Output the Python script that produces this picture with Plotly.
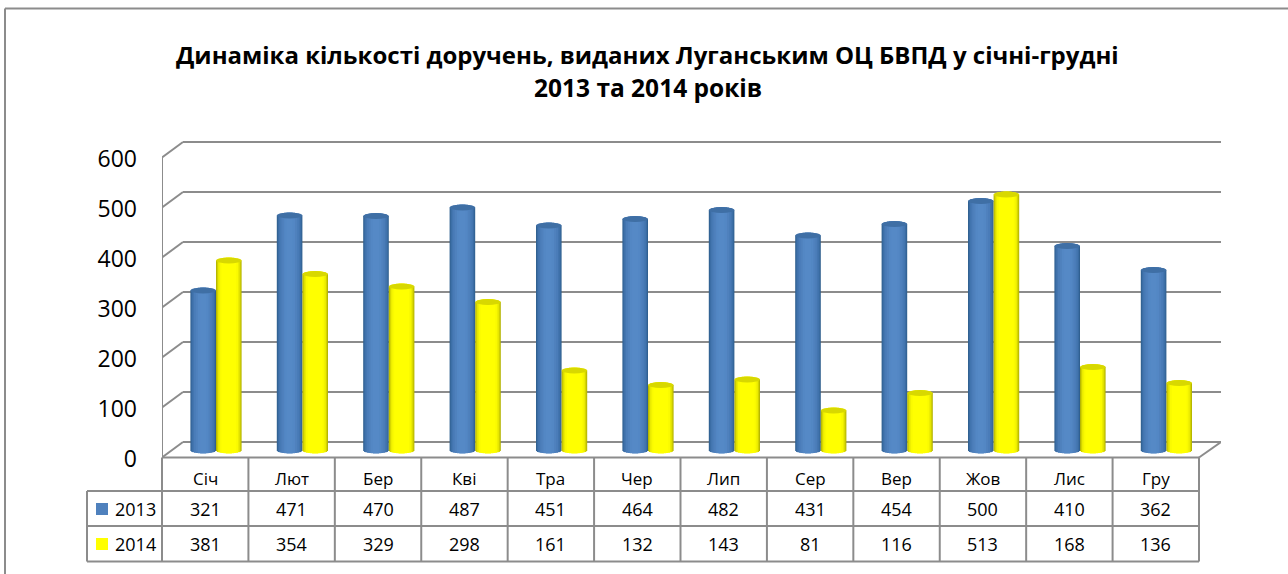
import math
import plotly.graph_objects as go

months = ["Січ", "Лют", "Бер", "Кві", "Тра", "Чер", "Лип", "Сер", "Вер", "Жов", "Лис", "Гру"]
values_2013 = [321, 471, 470, 487, 451, 464, 482, 431, 454, 500, 410, 362]
values_2014 = [381, 354, 329, 298, 161, 132, 143, 81, 116, 513, 168, 136]
y_ticks = [0, 100, 200, 300, 400, 500, 600]
title_lines = ["Динаміка кількості доручень, виданих Луганським ОЦ БВПД у січні-грудні",
               "2013 та 2014 років"]

W, H = 1288, 574
L, R, T, B = 162.0, 1221.0, 130.0, 470.0      # plot box in page pixels
FLOOR = 457.5                                 # pixel of the front floor edge
FR = 1199.0                                   # front right corner of the floor
X_STEP = 86.4
X0 = 216.0                                    # pixel of the first category centre
Y0 = 451.0                                    # pixel of value 0
Y_K = 0.5                                     # pixels per unit
FRONT = -13
BACK = 18
GREY = "#8c8c8c"
TXT = "#000000"
BODY = "Open Sans"

xr = [(L - X0) / X_STEP, (R - X0) / X_STEP]
yr = [(Y0 - B) / Y_K, (Y0 - T) / Y_K]
def xp(px): return (px - L) / (R - L)
def yp(py): return (B - py) / (B - T)
def xd(px): return (px - X0) / X_STEP

BAR_W = 25.6 / X_STEP
blue_ramp = ["#30608f", "#3a6ca3", "#4375af", "#4a7cb8", "#4f81bd", "#5387c4", "#5589c6"]
yellow_ramp = ["#b4b400", "#d2d200", "#ecec00", "#fafa00", "#ffff00", "#ffff00", "#ffff00"]
fracs = [1.0, 0.93, 0.84, 0.72, 0.58, 0.42, 0.24]
TOP_RY = 6.0
BASE_RY = 5.0

fig = go.Figure()
def cylinder(vals, centre, ramp, name):
    for f, c in zip(fracs, ramp):
        dy = math.sqrt(max(0, 1 - f * f))
        fig.add_trace(go.Bar(
            x=[i + centre for i in range(12)],
            y=[v + TOP_RY * dy + BASE_RY * dy for v in vals],
            base=[-BASE_RY * dy] * 12,
            width=BAR_W * f,
            marker=dict(color=c, line=dict(width=0)),
            name=name, showlegend=False, hoverinfo="skip",
        ))

cylinder(values_2013, -BAR_W / 2, blue_ramp, "2013")
cylinder(values_2014, BAR_W / 2, yellow_ramp, "2014")

shapes = []
def line(x0, y0, x1, y1, xref="x", yref="y", layer="below", w=2, c=GREY):
    shapes.append(dict(type="line", x0=x0, y0=y0, x1=x1, y1=y1, xref=xref, yref=yref,
                       layer=layer, line=dict(color=c, width=w)))

# walls and floor
bx0, bx1 = xd(183), xd(R)
fx0, fx1 = xd(L), xd(FR)
for t in y_ticks:
    line(bx0, t + BACK, bx1, t + BACK)
    line(fx0, t + FRONT, bx0, t + BACK)
line(fx0, FRONT, fx0, 600 + FRONT)
line(bx1, BACK, fx1, FRONT)

# cylinder caps
for vals, centre, col in ((values_2013, -BAR_W / 2, "#3f6fa5"), (values_2014, BAR_W / 2, "#d8d800")):
    for i, v in enumerate(vals):
        shapes.append(dict(type="circle", xref="x", yref="y", layer="above",
                           x0=i + centre - BAR_W / 2, x1=i + centre + BAR_W / 2,
                           y0=v - TOP_RY, y1=v + TOP_RY,
                           fillcolor=col, line=dict(width=0)))

# data table
rows = [FLOOR, 491, 526, 561.5]
for py in rows:
    line(xp(L if py == FLOOR else 87), yp(py), xp(FR), yp(py), "paper", "paper", "above")
for k in range(13):
    px = L + k * (FR - L) / 12
    line(xp(px), yp(FLOOR), xp(px), yp(rows[3]), "paper", "paper", "above")
line(xp(87), yp(491), xp(87), yp(561.5), "paper", "paper", "above")

# outer frame
line(xp(5), yp(8.5), xp(W + 2), yp(8.5), "paper", "paper", "above")
line(xp(5), yp(8.5), xp(5), yp(H + 2), "paper", "paper", "above")

ann = []
def text(px, py, s, size, bold=False, anchor="center"):
    ann.append(dict(x=xp(px), y=yp(py), xref="paper", yref="paper", text=f"<b>{s}</b>" if bold else s,
                    showarrow=False, xanchor=anchor, yanchor="middle",
                    font=dict(family=BODY, size=size, color=TXT)))

text(647.5, 55, title_lines[0], 24, True)
text(647.5, 87, title_lines[1], 24.5, True)

for k, m in enumerate(months):
    cx = L + (k + 0.5) * X_STEP
    text(cx, 479, m, 17)
    text(cx, 508.5, values_2013[k], 18)
    text(cx, 543.5, values_2014[k], 18)

for py, s, col in ((509, "2013", "#4f81bd"), (544, "2014", "#ffff00")):
    shapes.append(dict(type="rect", xref="paper", yref="paper", layer="above",
                       x0=xp(96), x1=xp(108), y0=yp(py - 6), y1=yp(py + 6),
                       fillcolor=col, line=dict(width=0)))
    text(113, py, s, 18, anchor="left")

fig.update_layout(
    width=W, height=H, autosize=False,
    margin=dict(l=L, r=W - R, t=T, b=H - B, pad=0),
    paper_bgcolor="white", plot_bgcolor="white",
    barmode="overlay", showlegend=False,
    shapes=shapes, annotations=ann,
    xaxis=dict(range=xr, visible=False, fixedrange=True),
    yaxis=dict(range=yr, fixedrange=True, showgrid=False, zeroline=False, showline=False,
               tickmode="array", tickvals=[t + FRONT - 3 for t in y_ticks], ticktext=[str(t) for t in y_ticks],
               ticks="", ticklabelstandoff=24,
               tickfont=dict(family=BODY, size=23, color=TXT)),
)
fig.write_html("out.html", config={"displayModeBar": False},
               post_script="document.body.style.margin='0';document.body.style.overflow='hidden';")
